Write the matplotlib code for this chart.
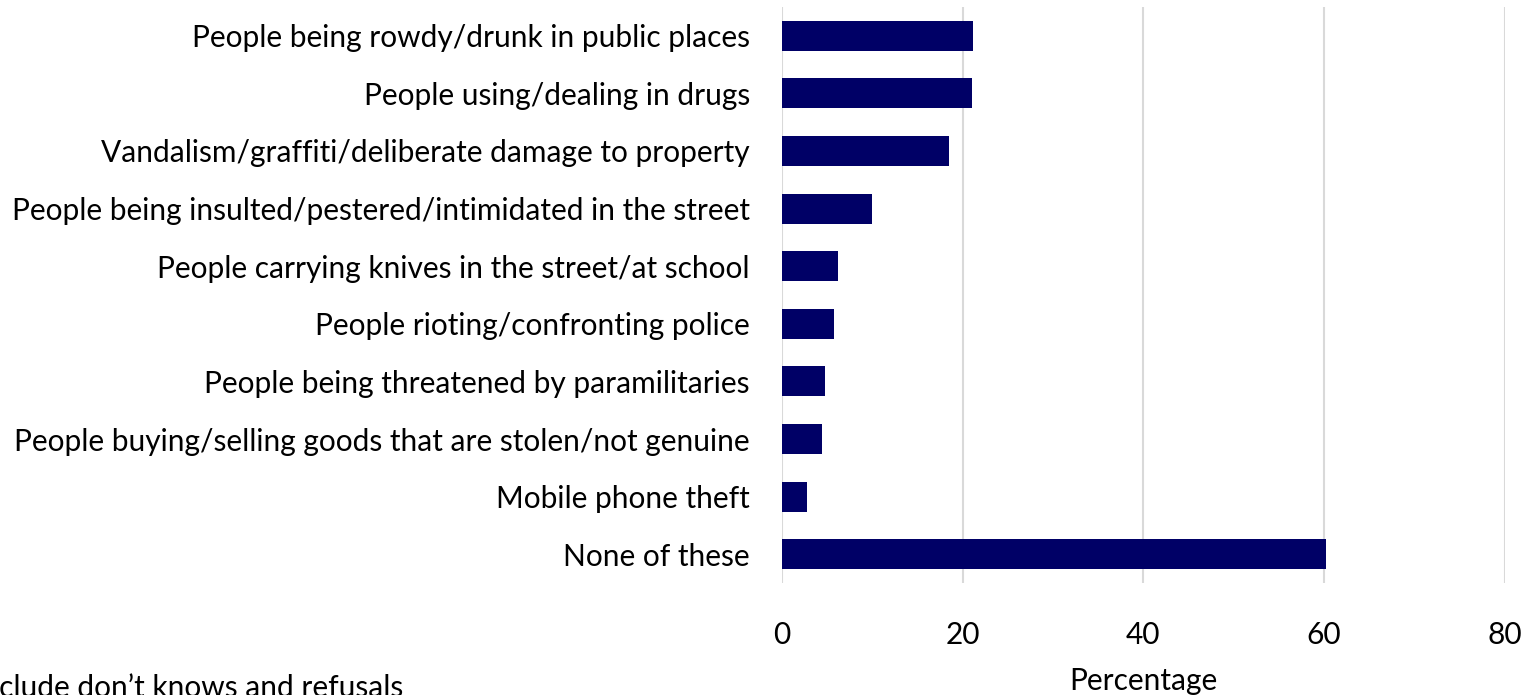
import matplotlib.pyplot as plt

plt.rcParams['font.family'] = ['Lato', 'DejaVu Sans']

categories = [
    "People being rowdy/drunk in public places",
    "People using/dealing in drugs",
    "Vandalism/graffiti/deliberate damage to property",
    "People being insulted/pestered/intimidated in the street",
    "People carrying knives in the street/at school",
    "People rioting/confronting police",
    "People being threatened by paramilitaries",
    "People buying/selling goods that are stolen/not genuine",
    "Mobile phone theft",
    "None of these",
]
values = [21.2, 21.0, 18.5, 10.0, 6.2, 5.8, 4.8, 4.4, 2.8, 60.2]
xticks = [0, 20, 40, 60, 80]

fs = 21.5

fig = plt.figure(figsize=(15.24, 6.95), dpi=100)
ax = fig.add_axes([0.513, 0.161, 0.4745, 0.829])

ypos = list(range(len(categories)))
ax.barh(ypos, values, height=0.52, color="#000066", zorder=3)

ax.set_ylim(len(categories) - 0.5, -0.5)
ax.set_xlim(0, 80)
ax.set_xticks(xticks)
ax.set_xticklabels([str(t) for t in xticks])
ax.set_yticks(ypos)
ax.set_yticklabels(categories)

ax.grid(axis="x", color="#d9d9d9", linewidth=1.5, zorder=0)
for s in ax.spines.values():
    s.set_visible(False)
ax.tick_params(axis="both", length=0, labelsize=fs, colors="black")
ax.tick_params(axis="y", pad=23)
ax.tick_params(axis="x", pad=27)
ax.set_xlabel("Percentage", fontsize=fs, labelpad=13)

fig.text(-0.0217, 1 - 674 / 695, "Exclude don\u2019t knows and refusals", fontsize=fs,
         ha="left", va="top")

fig.savefig("out.png", dpi=100)
